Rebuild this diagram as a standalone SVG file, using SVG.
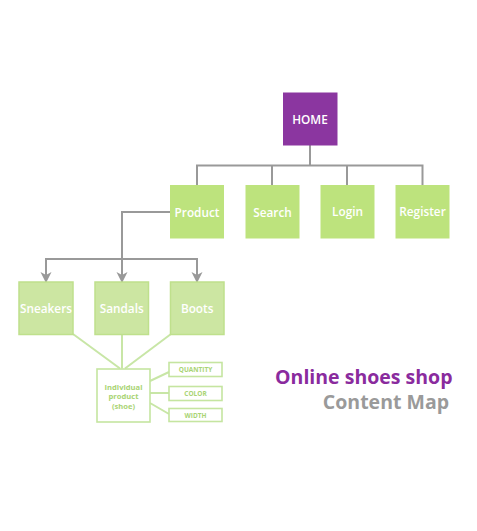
<svg xmlns="http://www.w3.org/2000/svg" width="477" height="531" viewBox="0 0 477 531">
<style>
.lbl{font-family:"Open Sans","Liberation Sans",sans-serif;font-weight:600;font-size:11.8px;fill:#ffffff;text-anchor:middle}
.top{fill:#bde37d}
.sub{fill:#cce6a2;stroke:#bfe08c;stroke-width:1.5}
.gray{stroke:#999999;stroke-width:2;fill:none}
.lg{stroke:#c8e6a6;stroke-width:2;fill:none}
.wbox{fill:#ffffff;stroke:#c5e5a0;stroke-width:1.6}
.gtxt{font-family:"Open Sans","Liberation Sans",sans-serif;font-weight:700;fill:#a9d474;text-anchor:middle}
.ttl{font-family:"Open Sans","Liberation Sans",sans-serif;font-weight:700;font-size:19.5px;text-anchor:end}
</style>
<defs>
<marker id="arr" viewBox="0 0 12 12" refX="11" refY="6" markerWidth="12" markerHeight="12" markerUnits="userSpaceOnUse" orient="auto">
<path d="M0,0.5 L11,6 L0,11.5 L3,6 Z" fill="#999999"/>
</marker>
</defs>
<rect width="477" height="531" fill="#ffffff"/>
<g id="connectors">
<path class="gray" d="M310,145 V165.5 M197,165.5 H422.5 M197,164.5 V185 M272,164.5 V185 M347,164.5 V185 M422.5,164.5 V185"/>
<path class="gray" d="M170,212 H122 V259 M45.5,259 H197.5"/>
<path class="gray" d="M46,258 V283" marker-end="url(#arr)"/>
<path class="gray" d="M122,258 V283" marker-end="url(#arr)"/>
<path class="gray" d="M197,258 V283" marker-end="url(#arr)"/>
<path class="lg" d="M73,334 L120,368.5 M122,335 V368.5 M171,334 L125,368.5"/>
<path class="lg" d="M150,381 L169,372 M150,393 H169 M150,403 L169,414"/>
</g>
<g id="home">
<rect x="283" y="92.5" width="54.5" height="53" fill="#8b36a0"/>
<text class="lbl" x="310" y="123.5">HOME</text>
</g>
<g id="product">
<rect class="top" x="170" y="185" width="54" height="53.5"/>
<text class="lbl" x="197" y="216.5">Product</text>
</g>
<g id="search">
<rect class="top" x="245.5" y="185" width="54" height="53.5"/>
<text class="lbl" x="272.5" y="216.5">Search</text>
</g>
<g id="login">
<rect class="top" x="320.5" y="185" width="54" height="53.5"/>
<text class="lbl" x="347.5" y="215.5">Login</text>
</g>
<g id="register">
<rect class="top" x="395.5" y="185" width="54" height="53.5"/>
<text class="lbl" x="422.5" y="215.5">Register</text>
</g>
<g id="sneakers">
<rect class="sub" x="19" y="282" width="54" height="52.5"/>
<text class="lbl" x="46" y="312.5">Sneakers</text>
</g>
<g id="sandals">
<rect class="sub" x="95" y="282" width="53.5" height="52.5"/>
<text class="lbl" x="121.7" y="312.5">Sandals</text>
</g>
<g id="boots">
<rect class="sub" x="170.5" y="282" width="53.5" height="52.5"/>
<text class="lbl" x="197.2" y="312.5">Boots</text>
</g>
<g id="individual">
<rect class="wbox" x="97" y="369" width="53" height="53"/>
<text class="gtxt" font-size="7.6" x="123.5" y="390">Individual</text>
<text class="gtxt" font-size="7.6" x="123.5" y="399.3">product</text>
<text class="gtxt" font-size="7.6" x="123.5" y="408.6">(shoe)</text>
</g>
<g id="quantity">
<rect class="wbox" x="169" y="362.5" width="53" height="14"/>
<text class="gtxt" font-size="6.5" x="195.5" y="372">QUANTITY</text>
</g>
<g id="color">
<rect class="wbox" x="169" y="386.5" width="53" height="14"/>
<text class="gtxt" font-size="6.5" x="195.5" y="396">COLOR</text>
</g>
<g id="width">
<rect class="wbox" x="169" y="408.5" width="53" height="13"/>
<text class="gtxt" font-size="6.5" x="195.5" y="417.5">WIDTH</text>
</g>
<g id="title">
<text class="ttl" x="452.5" y="383.5" fill="#8a2b9e">Online shoes shop</text>
<text class="ttl" x="449" y="408.5" fill="#9a9a9a">Content Map</text>
</g>
</svg>
